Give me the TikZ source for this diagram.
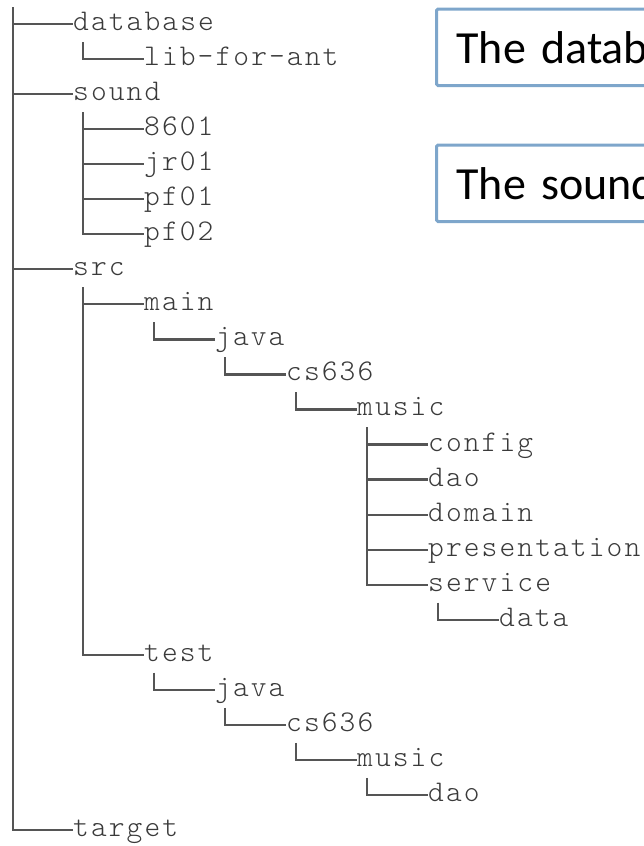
\documentclass[tikz,border=0pt]{standalone}
\usepackage{fontspec}
\setmonofont{Latin Modern Mono Light}[LetterSpace=7]
\newfontfamily\notefont{Carlito}
\usepackage{tikz}
\usepackage{xcolor}
\definecolor{treegray}{HTML}{3A3A3A}
\definecolor{linegray}{HTML}{555555}
\definecolor{noteblue}{HTML}{7EA6CB}

\begin{document}
\begin{tikzpicture}[x=1pt,y=-1pt,
  item/.style={anchor=west,inner sep=0pt,text height=20pt,text depth=7pt,
    font=\fontsize{30}{36}\selectfont\ttfamily,text=treegray},
  branch/.style={draw=linegray,line width=2.2pt},
  note/.style={draw=noteblue,line width=3pt,rounded corners=1.5pt,
    anchor=north west,minimum height=76.5pt,text width=260pt,inner xsep=20pt,
    align=left,font=\fontsize{46}{55}\selectfont\notefont,text=black}]
  \useasboundingbox (0,0) rectangle (644,846);

  % tree labels
  \coordinate (top) at (13,7);
  \node[item] (database)     at (73,24.0)  {database};
  \node[item] (libforant)    at (144,59.0) {lib-for-ant};
  \node[item] (sound)        at (73,94.1)  {sound};
  \node[item] (s8601)        at (144,129.1) {8601};
  \node[item] (jr01)         at (144,164.2) {jr01};
  \node[item] (pf01)         at (144,199.2) {pf01};
  \node[item] (pf02)         at (144,234.2) {pf02};
  \node[item] (src)          at (73,269.3)  {src};
  \node[item] (main)         at (144,304.3) {main};
  \node[item] (mainjava)     at (215,339.4) {java};
  \node[item] (maincs)       at (286,374.4) {cs636};
  \node[item] (mainmusic)    at (357,409.4) {music};
  \node[item] (config)       at (428,444.5) {config};
  \node[item] (maindao)      at (428,479.5) {dao};
  \node[item] (domain)       at (428,514.6) {domain};
  \node[item] (presentation) at (428,549.6) {presentation};
  \node[item] (service)      at (428,584.6) {service};
  \node[item] (data)         at (499,619.7) {data};
  \node[item] (test)         at (144,654.7) {test};
  \node[item] (testjava)     at (215,689.8) {java};
  \node[item] (testcs)       at (286,724.8) {cs636};
  \node[item] (testmusic)    at (357,759.8) {music};
  \node[item] (testdao)      at (428,794.9) {dao};
  \node[item] (target)       at (73,829.9)  {target};

  % branches
  \draw[branch] (top) |- (database.west);
  \draw[branch] (top) |- (sound.west);
  \draw[branch] (top) |- (src.west);
  \draw[branch] (top) |- (target.west);
  \draw[branch] ([shift={(10pt,-18pt)}]database.west) |- (libforant.west);
  \draw[branch] ([shift={(10pt,-18pt)}]sound.west) |- (s8601.west);
  \draw[branch] ([shift={(10pt,-18pt)}]sound.west) |- (jr01.west);
  \draw[branch] ([shift={(10pt,-18pt)}]sound.west) |- (pf01.west);
  \draw[branch] ([shift={(10pt,-18pt)}]sound.west) |- (pf02.west);
  \draw[branch] ([shift={(10pt,-18pt)}]src.west) |- (main.west);
  \draw[branch] ([shift={(10pt,-18pt)}]src.west) |- (test.west);
  \draw[branch] ([shift={(10pt,-18pt)}]main.west) |- (mainjava.west);
  \draw[branch] ([shift={(10pt,-18pt)}]mainjava.west) |- (maincs.west);
  \draw[branch] ([shift={(10pt,-18pt)}]maincs.west) |- (mainmusic.west);
  \draw[branch] ([shift={(10pt,-18pt)}]mainmusic.west) |- (config.west);
  \draw[branch] ([shift={(10pt,-18pt)}]mainmusic.west) |- (maindao.west);
  \draw[branch] ([shift={(10pt,-18pt)}]mainmusic.west) |- (domain.west);
  \draw[branch] ([shift={(10pt,-18pt)}]mainmusic.west) |- (presentation.west);
  \draw[branch] ([shift={(10pt,-18pt)}]mainmusic.west) |- (service.west);
  \draw[branch] ([shift={(10pt,-18pt)}]service.west) |- (data.west);
  \draw[branch] ([shift={(10pt,-18pt)}]test.west) |- (testjava.west);
  \draw[branch] ([shift={(10pt,-18pt)}]testjava.west) |- (testcs.west);
  \draw[branch] ([shift={(10pt,-18pt)}]testcs.west) |- (testmusic.west);
  \draw[branch] ([shift={(10pt,-18pt)}]testmusic.west) |- (testdao.west);

  % notes, running off the right edge
  \node[note] (dbnote)    at (435,7.5)   {The datab};
  \node[note] (soundnote) at (435,143.5) {The sound};
\end{tikzpicture}
\end{document}
